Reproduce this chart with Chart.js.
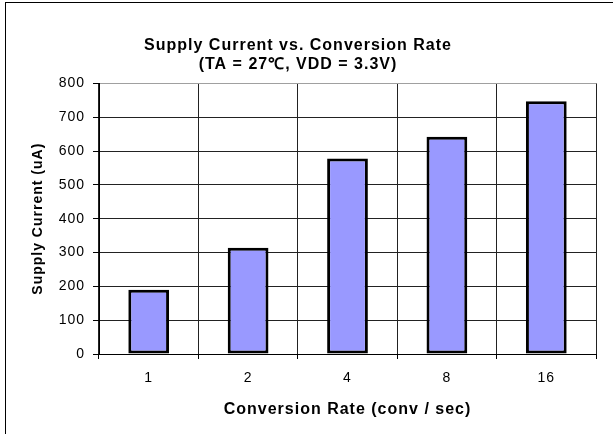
<!DOCTYPE html>
<html>
<head>
<meta charset="utf-8">
<script src="https://cdn.jsdelivr.net/npm/chart.js@4/dist/chart.umd.min.js"></script>
<style>
  html, body { margin: 0; padding: 0; background: #fff; }
  #wrap { position: relative; width: 613px; height: 434px; overflow: hidden; }
  #myChart { position: absolute; left: 0; top: 0; }
  #frame {
    position: absolute; left: 5px; top: 2px; width: 700px; height: 500px;
    border-left: 1px solid #000; border-top: 1px solid #000;
    pointer-events: none;
  }
</style>
</head>
<body>
<div id="wrap">
  <canvas id="myChart" width="604" height="434"></canvas>
  <div id="frame"></div>
</div>
<script>
// Data
const categories = ["1", "2", "4", "8", "16"];
const supplyCurrent = [190, 314, 578, 642, 747];
const titleLines = ["Supply Current vs. Conversion Rate", "(TA = 27\u2103, VDD = 3.3V)"];
const xTitle = "Conversion Rate (conv / sec)";
const yTitle = "Supply Current (uA)";
const yMin = 0;
const yMax = 800;
const yStep = 100;

const fontFamily = "'Liberation Sans', Arial, sans-serif";

// The original text is set rather wide, so add a bit of letter spacing
const spacingPlugin = {
  id: "spacing",
  beforeLayout(chart) { chart.ctx.letterSpacing = "1px"; },
  beforeDraw(chart) { chart.ctx.letterSpacing = "1px"; },
};

let ctx = document.getElementById("myChart").getContext("2d");
new Chart(ctx, {
  type: "bar",
  data: {
    labels: categories,
    datasets: [
      {
        data: supplyCurrent,
        backgroundColor: "#9999ff",
        borderColor: "#000",
        borderWidth: 3,
        borderSkipped: false,
        barPercentage: 0.41,
        categoryPercentage: 1,
      },
    ],
  },
  options: {
    responsive: false,
    animation: false,
    layout: { padding: { left: 0, right: 8, top: 0, bottom: 0 } },
    plugins: {
      legend: { display: false },
      tooltip: { enabled: false },
      title: {
        display: true,
        text: titleLines,
        color: "#000",
        font: { family: fontFamily, size: 16, weight: "bold", lineHeight: 1.2 },
        padding: { top: 36, bottom: 9 },
      },
    },
    scales: {
      x: {
        grid: {
          // last line on the right is the light plot border
          color: (c) => (c.index === categories.length ? "#a0a0a0" : "#222"),
          tickColor: "#000",
          tickLength: 5,
        },
        border: { color: "#000", width: 1 },
        ticks: {
          color: "#000",
          padding: 11,
          font: { family: fontFamily, size: 14 },
        },
        title: {
          display: true,
          text: xTitle,
          color: "#000",
          font: { family: fontFamily, size: 16, weight: "bold", lineHeight: 1.2 },
          padding: { top: 0, bottom: 15 },
        },
        afterFit(scale) { scale.height = 80; },
      },
      y: {
        min: yMin,
        max: yMax,
        grid: {
          color: (c) => (c.tick && c.tick.value === yMax ? "#a0a0a0" : "#222"),
          tickColor: "#000",
          tickLength: 6,
        },
        border: { color: "#000", width: 1 },
        ticks: {
          stepSize: yStep,
          color: "#000",
          padding: 8,
          font: { family: fontFamily, size: 14 },
        },
        title: {
          display: true,
          text: yTitle,
          color: "#000",
          font: { family: fontFamily, size: 14, weight: "bold", lineHeight: 1.2 },
          padding: { top: 30, bottom: 0 },
        },
        afterFit(scale) { scale.width = 99; },
      },
    },
  },
  plugins: [spacingPlugin],
});
</script>
</body>
</html>
